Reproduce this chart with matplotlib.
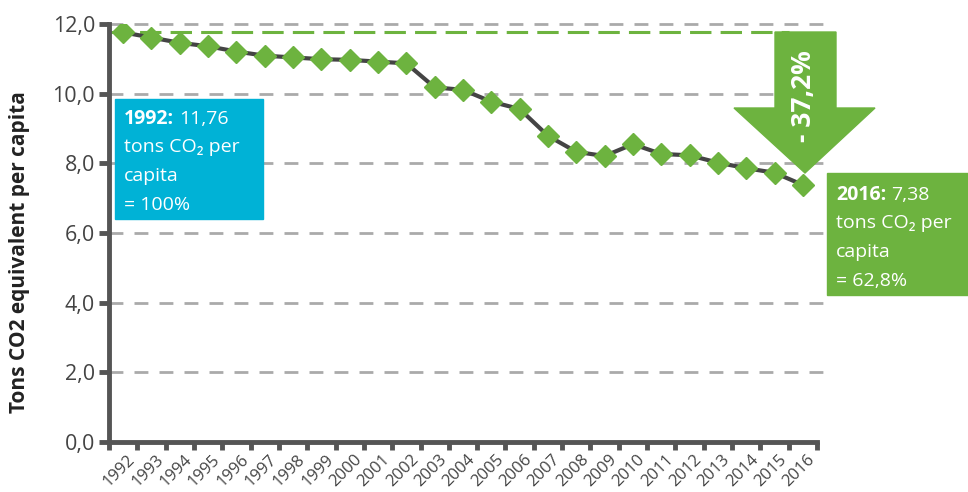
import numpy as np
import matplotlib
matplotlib.use("Agg")
import matplotlib.pyplot as plt
import matplotlib.transforms as mtransforms
from matplotlib.patches import Rectangle, Polygon

plt.rcParams['font.family'] = ['Open Sans', 'DejaVu Sans']

years = [str(y) for y in range(1992, 2017)]
emissions = [11.76, 11.61, 11.46, 11.36, 11.21, 11.09, 11.04, 10.99, 10.97, 10.92,
             10.87, 10.18, 10.11, 9.77, 9.56, 8.79, 8.33, 8.21, 8.55, 8.27,
             8.23, 8.02, 7.86, 7.73, 7.38]
y_ticks = [0, 2, 4, 6, 8, 10, 12]
y_tick_labels = ["0,0", "2,0", "4,0", "6,0", "8,0", "10,0", "12,0"]

W, H = 968, 492
GREEN = "#6db33f"
BLUE = "#00b2d6"
DARK = "#555555"


def fx(px):
    return px / W


def fy(py):
    return 1 - py / H


fig = plt.figure(figsize=(W / 100, H / 100), dpi=100)
ax = fig.add_axes([fx(109), fy(442), fx(817) - fx(109), fy(24) - fy(442)])

x = np.arange(len(years))
ax.set_xlim(-0.5, len(years) - 0.5)
ax.set_ylim(0, 12)

for v in y_ticks[1:]:
    ax.plot([-0.5, len(years) - 0.3], [v, v], color="#aaaaaa", lw=2,
            dashes=(5, 4), clip_on=False, zorder=1)

ax.plot([-0.5, 23.5], [emissions[0], emissions[0]], color=GREEN, lw=2.2,
        dashes=(7, 3), zorder=2)
ax.plot(x, emissions, color="#444444", lw=3, zorder=3)
ax.plot(x, emissions, ls="none", marker="D", ms=11, color=GREEN, zorder=4)

for s in ["top", "right"]:
    ax.spines[s].set_visible(False)
for s in ["left", "bottom"]:
    ax.spines[s].set_linewidth(3.5)
    ax.spines[s].set_color(DARK)

ax.set_yticks(y_ticks)
ax.set_yticklabels(y_tick_labels, fontsize=15.5, color="#444444")
ax.tick_params(axis="y", length=7, width=3.5, color=DARK, pad=3)

ax.set_xticks(np.arange(-0.5, len(years), 1.0))
ax.set_xticklabels([])
ax.tick_params(axis="x", which="major", length=6, width=3.5, color=DARK)
ax.set_xticks(x, minor=True)
ax.set_xticklabels(years, minor=True, rotation=45, ha="right",
                   rotation_mode="anchor", fontsize=12, color="#444444")
ax.tick_params(axis="x", which="minor", length=0, pad=7)
shift = mtransforms.ScaledTranslation(4 / 100, 0, fig.dpi_scale_trans)
for lbl in ax.get_xticklabels(minor=True):
    lbl.set_transform(lbl.get_transform() + shift)

fig.text(fx(20), fy(252), "Tons CO2 equivalent per capita", rotation=90,
         fontsize=15, fontweight="bold", ha="center", va="center", color="#222222")

renderer = fig.canvas.get_renderer()
box_kw = dict(fontsize=14, color="white", va="baseline", zorder=6)


def box_label(left, top, lines):
    year, value = lines[0]
    t = fig.text(fx(left), fy(top), year, fontweight="bold", **box_kw)
    right = t.get_window_extent(renderer).x1
    fig.text(right / W + fx(5), fy(top), value, **box_kw)
    for i, line in enumerate(lines[1:], start=1):
        fig.text(fx(left), fy(top + 28.5 * i), line, **box_kw)


# blue box 1992
fig.add_artist(Rectangle((fx(115), fy(219)), fx(263) - fx(115), fy(99) - fy(219),
                         transform=fig.transFigure, color=BLUE, zorder=5))
box_label(124, 124, [("1992:", "11,76"), "tons CO₂ per", "capita", "= 100%"])

# green box 2016
fig.add_artist(Rectangle((fx(827), fy(295)), fx(968) - fx(827), fy(173) - fy(295),
                         transform=fig.transFigure, color=GREEN, zorder=5))
box_label(836, 200, [("2016:", "7,38"), "tons CO₂ per", "capita", "= 62,8%"])

# arrow
arrow_px = [(775, 32), (836, 32), (836, 108), (875, 108), (805, 173),
            (734, 108), (775, 108)]
fig.add_artist(Polygon([(fx(a), fy(b)) for a, b in arrow_px], closed=True,
                       transform=fig.transFigure, color=GREEN, zorder=5))
fig.text(fx(804), fy(96), "- 37,2%", rotation=90, fontsize=19, fontweight="bold",
         color="white", ha="center", va="center", zorder=6)

fig.savefig("out.png", dpi=100)
